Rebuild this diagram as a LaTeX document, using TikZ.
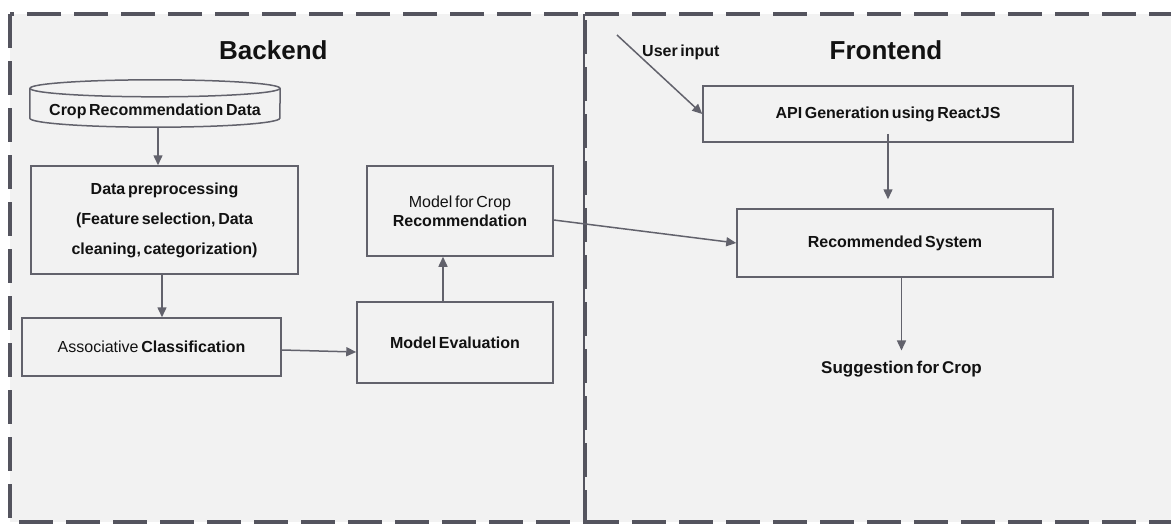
\documentclass[tikz,border=0pt]{standalone}
\usepackage{fontspec}
\setmainfont{Liberation Sans}[WordSpace=0.6]
\usetikzlibrary{arrows.meta}
\definecolor{panelbg}{RGB}{242,242,242}
\definecolor{frame}{RGB}{84,84,94}
\definecolor{edge}{RGB}{98,98,108}
\definecolor{ink}{RGB}{18,18,18}
\begin{document}
\begin{tikzpicture}[x=1pt,y=-1pt,
  box/.style={draw=edge,line width=1.5pt,rectangle,inner sep=0pt,align=center,
    text=ink,font=\fontsize{16}{19}\selectfont},
  cyl/.style={draw=edge,line width=1.5pt},
  arr/.style={draw=edge,line width=1.5pt,-{Triangle[length=10pt,width=9pt]}},
  dashframe/.style={draw=frame,line width=4pt,dash pattern=on 34pt off 13pt},
  title/.style={font=\fontsize{26}{30}\selectfont\bfseries,text=ink,inner sep=0pt},
  plain/.style={font=\fontsize{16}{19}\selectfont\bfseries,text=ink,inner sep=0pt}]

\useasboundingbox (0,0) rectangle (1171,525);

% panels
\fill[panelbg] (10,14) rectangle (1171,522);
\draw[dashframe] (10,14) rectangle (585,522);
\draw[dashframe] (585,14) -- (1200,14);
\draw[dashframe] (585,522) -- (1200,522);
\draw[frame,line width=1.5pt] (584,14) -- (584,522);

% titles
\node[title,anchor=base west] (backend) at (219,59) {Backend};
\node[title,anchor=base] (frontend) at (886,59) {Frontend};

% backend blocks
\node[inner sep=0pt,minimum width=250pt,minimum height=31pt,text=ink,
  font=\fontsize{16}{19}\selectfont\bfseries] (db) at (155,111.5) {Crop Recommendation Data};
\draw[cyl] ([yshift=7.5pt]db.north) ellipse [x radius=125pt,y radius=8.5pt];
\draw[cyl] ([yshift=7.5pt]db.north west) -- ([yshift=9pt]db.south west)
  arc[start angle=180,end angle=360,x radius=125pt,y radius=9pt]
  -- ([yshift=7.5pt]db.north east);

\node[box,minimum width=267pt,minimum height=108pt,
  font=\fontsize{16}{30}\selectfont\bfseries] (prep) at (164.5,220)
  {Data preprocessing\\(Feature selection, Data\\cleaning, categorization)};
\node[box,minimum width=259pt,minimum height=58pt] (assoc) at (151.5,347)
  {Associative \textbf{Classification}};
\node[box,minimum width=196pt,minimum height=81pt] (meval) at (455,342.5)
  {\textbf{Model Evaluation}};
\node[box,minimum width=186pt,minimum height=90pt] (mcrop) at (460,211)
  {Model for Crop\\\textbf{Recommendation}};

% frontend blocks
\node[box,minimum width=370pt,minimum height=56pt] (api) at (888,114)
  {\textbf{API Generation using ReactJS}};
\node[box,minimum width=316pt,minimum height=68pt] (rs) at (895,243)
  {\textbf{Recommended System}};
\node[plain,font=\fontsize{17}{20}\selectfont\bfseries,anchor=base] (sugg) at (901.5,373)
  {Suggestion for Crop};
\node[plain,anchor=base west] (uinlabel) at (642,56) {User input};

% connectors
\coordinate (uin) at (617,35);
\coordinate (sugtip) at ([yshift=10pt]sugg.north);
\draw[arr] ([xshift=3pt]db.south) -- ([xshift=3pt]db.south |- prep.north);
\draw[arr] ([xshift=-2.5pt]prep.south) -- ([xshift=-2.5pt]prep.south |- assoc.north);
\draw[arr] ([yshift=-3pt]assoc.east) -- ([yshift=-9.5pt]meval.west);
\draw[arr] ([xshift=-12pt]meval.north) -- ([xshift=-12pt]meval.north |- mcrop.south);
\draw[arr] ([yshift=-9pt]mcrop.east) -- (rs.west);
\draw[arr] (uin) -- (api.west);
\draw[arr] ([yshift=9pt]api.south) -- ([yshift=9pt]api.south |- rs.north);
\draw[arr] (sugtip |- rs.south) -- (sugtip);
\end{tikzpicture}
\end{document}
